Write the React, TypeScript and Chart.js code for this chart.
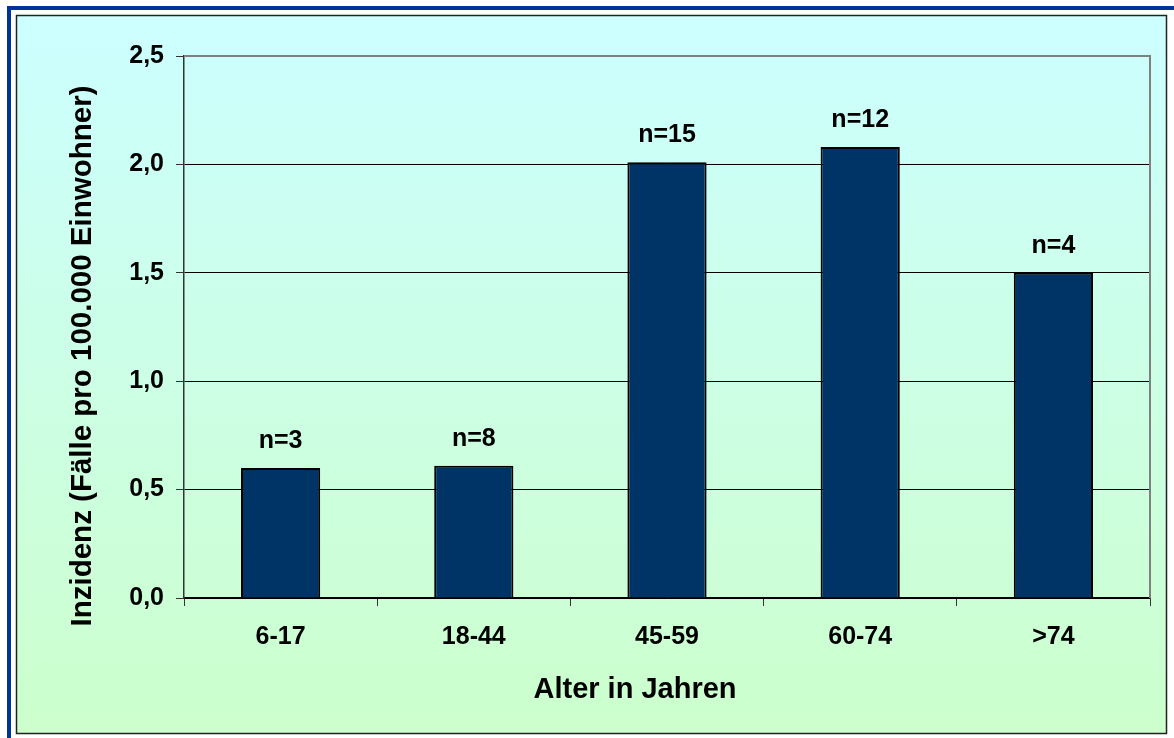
import React, { useEffect, useRef } from 'react';
import { Chart, registerables } from 'chart.js';

Chart.register(...registerables);

const categories = ['6-17', '18-44', '45-59', '60-74', '>74'];
const incidence = [0.6, 0.61, 2.01, 2.08, 1.5];
const caseLabels = ['n=3', 'n=8', 'n=15', 'n=12', 'n=4'];
const yTickValues = [0, 0.5, 1.0, 1.5, 2.0, 2.5];
const xTitle = 'Alter in Jahren';
const yTitle = 'Inzidenz (Fälle pro 100.000 Einwohner)';

const FONT = '"Liberation Sans", Arial, Helvetica, sans-serif';

export default function App() {
  const ref = useRef<HTMLCanvasElement | null>(null);

  useEffect(() => {
    document.body.style.margin = '0';
    const canvas = ref.current;
    if (!canvas) return;

    const decorPlugin = {
      id: 'decor',
      beforeDraw(chart: any) {
        const ctx = chart.ctx;
        ctx.save();
        ctx.fillStyle = '#ffffff';
        ctx.fillRect(0, 0, chart.width, chart.height);
        ctx.fillStyle = '#003399';
        ctx.fillRect(7, 6, chart.width - 7, 4);
        ctx.fillRect(7, 6, 4, chart.height - 6);
        const g = ctx.createLinearGradient(0, 16, 0, 733);
        g.addColorStop(0, '#CCFFFF');
        g.addColorStop(1, '#CCFFCC');
        ctx.fillStyle = g;
        ctx.fillRect(16, 15, 1151, 719);
        ctx.strokeStyle = '#222222';
        ctx.lineWidth = 1.5;
        ctx.strokeRect(16.5, 15.5, 1150, 718);
        ctx.restore();
      },
      afterDatasetsDraw(chart: any) {
        const ctx = chart.ctx;
        const meta = chart.getDatasetMeta(0);
        ctx.save();
        ctx.fillStyle = '#000';
        ctx.font = `bold 25px ${FONT}`;
        ctx.textAlign = 'center';
        ctx.textBaseline = 'alphabetic';
        meta.data.forEach((bar: any, i: number) => {
          ctx.fillText(caseLabels[i], bar.x, bar.y - 20);
        });
        ctx.restore();
      },
      afterDraw(chart: any) {
        const ctx = chart.ctx;
        const a = chart.chartArea;
        ctx.save();
        ctx.strokeStyle = '#808080';
        ctx.lineWidth = 2;
        ctx.beginPath();
        ctx.moveTo(a.left, a.top);
        ctx.lineTo(a.right, a.top);
        ctx.lineTo(a.right, a.bottom);
        ctx.stroke();
        ctx.fillStyle = '#000';
        ctx.font = `bold 29px ${FONT}`;
        ctx.textAlign = 'center';
        ctx.textBaseline = 'alphabetic';
        ctx.fillText(xTitle, 635, 698);
        ctx.translate(91, 356);
        ctx.rotate(-Math.PI / 2);
        ctx.font = `bold 29.5px ${FONT}`;
        ctx.fillText(yTitle, 0, 0);
        ctx.restore();
      },
    };

    const chart = new Chart(canvas, {
      type: 'bar',
      data: {
        labels: categories,
        datasets: [
          {
            data: incidence,
            backgroundColor: '#003366',
            borderColor: '#000000',
            borderWidth: 2,
            categoryPercentage: 1,
            barPercentage: 0.41,
          },
        ],
      },
      options: {
        responsive: false,
        animation: false,
        layout: { padding: { top: 56, right: 24, left: 0, bottom: 0 } },
        plugins: { legend: { display: false }, tooltip: { enabled: false } },
        scales: {
          x: {
            ticks: {
              color: '#000',
              padding: 16,
              font: { family: FONT, size: 25, weight: 'bold' },
            },
            grid: { drawOnChartArea: false, tickLength: 8, color: '#333', offset: true },
            border: { color: '#000', width: 1.5 },
            afterFit: (s: any) => {
              s.height = 140;
            },
          },
          y: {
            min: 0,
            max: 2.5,
            afterBuildTicks: (s: any) => {
              s.ticks = yTickValues.map((v) => ({ value: v }));
            },
            ticks: {
              color: '#000',
              padding: 12,
              font: { family: FONT, size: 25, weight: 'bold' },
              callback: (v: any) => Number(v).toFixed(1).replace('.', ','),
            },
            grid: {
              color: (c: any) => (c.tick && c.tick.value === 2.5 ? '#808080' : '#000'),
              lineWidth: 1,
              tickLength: 8,
              tickColor: '#333',
            },
            border: { color: '#333', width: 1.5 },
            afterFit: (s: any) => {
              s.width = 184;
            },
          },
        },
      },
      plugins: [decorPlugin],
    } as any);

    return () => chart.destroy();
  }, []);

  return <canvas ref={ref} width={1174} height={738} style={{ display: 'block' }} />;
}
